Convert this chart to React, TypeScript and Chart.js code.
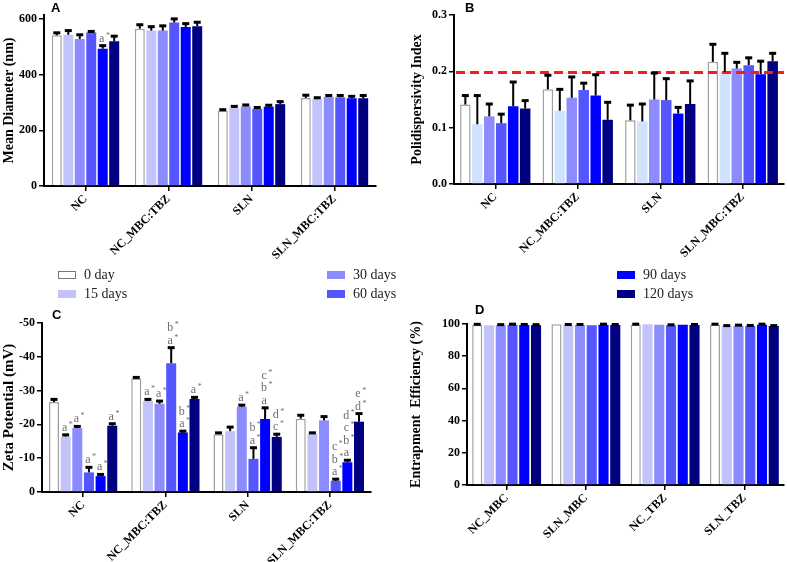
import React, { useEffect, useRef } from "react";
import { Chart, registerables } from "chart.js";
Chart.register(...registerables);

// ---------- shared ----------
const seriesLabels = ["0 day", "15 days", "30 days", "60 days", "90 days", "120 days"];
const seriesColors = ["#ffffff", "#c3c3fb", "#8c8cff", "#5656ff", "#0000ff", "#000080"];
const seriesColorsB = ["#ffffff", "#cfe2ff", "#8c8cff", "#5656ff", "#0000ff", "#000080"];
const catsABC = ["NC", "NC_MBC:TBZ", "SLN", "SLN_MBC:TBZ"];
const catsD = ["NC_MBC", "SLN_MBC", "NC_TBZ", "SLN_TBZ"];

// ---------- Panel A: mean diameter (nm) ----------
const diam0 = [541, 565, 270, 316];
const diam15 = [543, 558, 281, 312];
const diam30 = [528, 558, 286, 320];
const diam60 = [551, 587, 277, 319];
const diam90 = [493, 571, 285, 315];
const diam120 = [520, 574, 294, 315];
const diamErr0 = [9, 14, 4, 10];
const diamErr15 = [15, 14, 5, 5];
const diamErr30 = [15, 17, 5, 5];
const diamErr60 = [4, 13, 5, 6];
const diamErr90 = [11, 12, 5, 7];
const diamErr120 = [18, 14, 9, 10];
const diamNote90 = ["a*", "", "", ""];
const diamTicks = [0, 200, 400, 600];

// ---------- Panel B: polydispersity index ----------
const pdi0 = [0.141, 0.168, 0.113, 0.217];
const pdi15 = [0.106, 0.13, 0.111, 0.199];
const pdi30 = [0.12, 0.153, 0.15, 0.205];
const pdi60 = [0.108, 0.167, 0.149, 0.211];
const pdi90 = [0.138, 0.157, 0.125, 0.195];
const pdi120 = [0.134, 0.114, 0.142, 0.218];
const pdiErr0 = [0.016, 0.025, 0.027, 0.031];
const pdiErr15 = [0.051, 0.038, 0.031, 0.033];
const pdiErr30 = [0.022, 0.037, 0.047, 0.011];
const pdiErr60 = [0.016, 0.012, 0.038, 0.013];
const pdiErr90 = [0.043, 0.037, 0.011, 0.023];
const pdiErr120 = [0.014, 0.031, 0.041, 0.014];
const pdiLimit = 0.198;
const pdiTicks = [0, 0.1, 0.2, 0.3];

// ---------- Panel C: zeta potential (mV) ----------
const zeta0 = [-26.6, -33.6, -17.1, -21.7];
const zeta15 = [-16.4, -26.9, -18.0, -17.2];
const zeta30 = [-18.9, -26.1, -25.2, -21.2];
const zeta60 = [-5.8, -38.1, -9.8, -3.3];
const zeta90 = [-4.7, -17.6, -21.6, -8.8];
const zeta120 = [-19.6, -27.5, -16.3, -20.8];
const zetaErr0 = [0.8, 0.3, 0.4, 1.0];
const zetaErr15 = [0.5, 0.5, 1.2, 0.3];
const zetaErr30 = [0.5, 0.8, 0.5, 1.1];
const zetaErr60 = [1.5, 4.6, 3.3, 0.5];
const zetaErr90 = [0.5, 0.4, 3.3, 0.6];
const zetaErr120 = [0.6, 0.5, 0.8, 2.4];
const zetaNote15 = ["a*", "a*", "", ""];
const zetaNote30 = ["a*", "a*", "a*", ""];
const zetaNote60 = ["a*", "b*\na*", "b*\na*", "c*\nb*\na*"];
const zetaNote90 = ["a*", "b*\na*", "c*\nb*\na", "d*\nc*\nb*\na"];
const zetaNote120 = ["a*", "a*", "d*\nc*", "e*\nd*"];
const zetaTicks = [-50, -40, -30, -20, -10, 0];

// ---------- Panel D: entrapment efficiency (%) ----------
const ee0 = [99.5, 99.9, 99.6, 99.6];
const ee15 = [99.2, 99.4, 99.9, 98.6];
const ee30 = [99.3, 99.4, 99.6, 99.0];
const ee60 = [99.6, 99.3, 99.2, 98.8];
const ee90 = [99.4, 99.6, 99.6, 99.5];
const ee120 = [99.3, 99.4, 99.4, 98.7];
const eeErr0 = [0.3, 0, 0.3, 0.3];
const eeErr15 = [0, 0.3, 0, 0.4];
const eeErr30 = [0.3, 0.3, 0, 0.3];
const eeErr60 = [0.3, 0, 0.3, 0.3];
const eeErr90 = [0.3, 0.3, 0, 0.4];
const eeErr120 = [0.3, 0.3, 0.3, 0.3];
const eeTicks = [0, 20, 40, 60, 80, 100];

const SERIF = "'Liberation Serif', 'Times New Roman', serif";
const SANS = "'Liberation Sans', Arial, sans-serif";

type PanelCfg = {
  labels: string[];
  values: number[][];
  errors: number[][];
  notes?: (string[] | null)[];
  colors: string[];
  min: number;
  max: number;
  ticks: number[];
  reverse?: boolean;
  decimals?: number;
  title: string;
  titleSize: number;
  padLeft: number;
  yWidth: number;
  padTop: number;
  padRight: number;
  xHeight: number;
  catPct: number;
  barPct: number;
  refLine?: number;
  width: number;
  height: number;
};

function Panel({ cfg, left, top }: { cfg: PanelCfg; left: number; top: number }) {
  const ref = useRef<HTMLCanvasElement | null>(null);
  useEffect(() => {
    const canvas = ref.current;
    if (!canvas) return;
    const plugin = {
      id: "errbars",
      afterDatasetsDraw(chart: any) {
        const ctx = chart.ctx as CanvasRenderingContext2D;
        const ys = chart.scales.y;
        const area = chart.chartArea;
        ctx.save();
        if (cfg.refLine !== undefined) {
          const py = ys.getPixelForValue(cfg.refLine);
          ctx.strokeStyle = "#ff1a1a";
          ctx.lineWidth = 3;
          ctx.setLineDash([9, 5]);
          ctx.beginPath();
          ctx.moveTo(area.left + 2, py);
          ctx.lineTo(area.right, py);
          ctx.stroke();
          ctx.setLineDash([]);
        }
        cfg.values.forEach((vals, i) => {
          const meta = chart.getDatasetMeta(i);
          vals.forEach((v, j) => {
            const bar = meta.data[j];
            if (!bar) return;
            const e = cfg.errors[i][j];
            const sign = v < 0 ? -1 : 1;
            const yTop = ys.getPixelForValue(v + sign * e);
            const x = bar.x;
            ctx.fillStyle = "#000";
            if (e > 0) {
              ctx.strokeStyle = "#000";
              ctx.lineWidth = 2;
              ctx.beginPath();
              ctx.moveTo(x, bar.y);
              ctx.lineTo(x, yTop);
              ctx.stroke();
              ctx.fillRect(x - 3.5, yTop - 1.5, 7, 3);
            }
            const note = cfg.notes && cfg.notes[i] ? cfg.notes[i]![j] : "";
            if (note) {
              const lines = note.split("\n");
              let base = yTop - 4;
              for (let k = lines.length - 1; k >= 0; k--) {
                const txt = lines[k];
                const letter = txt.replace("*", "");
                const star = txt.includes("*");
                ctx.font = `12px ${SERIF}`;
                ctx.fillStyle = "#6e6e6e";
                ctx.textAlign = "center";
                ctx.textBaseline = "alphabetic";
                const w = ctx.measureText(letter).width;
                ctx.fillText(letter, x - 1, base);
                if (star) {
                  ctx.font = `8px ${SERIF}`;
                  ctx.textAlign = "left";
                  ctx.fillText("*", x - 1 + w / 2 + 1.5, base - 4);
                }
                base -= 12.5;
              }
            }
          });
        });
        ctx.restore();
      },
    };
    const datasets = cfg.values.map((vals, i) => ({
      label: seriesLabels[i],
      data: vals,
      backgroundColor: cfg.colors[i],
      borderColor: i === 0 ? "#a0a0a0" : cfg.colors[i],
      borderWidth: i === 0 ? 1.5 : 0,
      categoryPercentage: cfg.catPct,
      barPercentage: cfg.barPct,
    }));
    const chart = new Chart(canvas, {
      type: "bar",
      data: { labels: cfg.labels, datasets },
      options: {
        responsive: false,
        animation: false,
        devicePixelRatio: 1,
        layout: { padding: { left: cfg.padLeft, top: cfg.padTop, right: cfg.padRight, bottom: 0 } },
        plugins: { legend: { display: false }, tooltip: { enabled: false } },
        scales: {
          x: {
            offset: true,
            grid: {
              display: true,
              offset: false,
              drawOnChartArea: false,
              drawTicks: true,
              tickLength: 5,
              color: "#000",
              lineWidth: 1.5,
            },
            border: { display: true, color: "#000", width: 2 },
            ticks: {
              minRotation: 45,
              maxRotation: 45,
              autoSkip: false,
              padding: 1,
              color: "#000",
              font: { family: SERIF, weight: "bold", size: 12 },
            },
            afterFit: (s: any) => {
              s.height = cfg.xHeight;
            },
          },
          y: {
            min: cfg.min,
            max: cfg.max,
            reverse: !!cfg.reverse,
            grid: {
              display: true,
              drawOnChartArea: false,
              drawTicks: true,
              tickLength: 5,
              color: "#000",
              lineWidth: 1.5,
            },
            border: { display: true, color: "#000", width: 2 },
            ticks: {
              autoSkip: false,
              padding: 2,
              color: "#000",
              font: { family: SERIF, weight: "bold", size: 12 },
              callback: (v: any) =>
                cfg.decimals ? Number(v).toFixed(cfg.decimals) : String(Math.round(Number(v))),
            },
            afterBuildTicks: (s: any) => {
              s.ticks = cfg.ticks.map((v) => ({ value: v }));
            },
            title: {
              display: true,
              text: cfg.title,
              color: "#000",
              padding: 0,
              font: { family: SERIF, weight: "bold", size: cfg.titleSize },
            },
            afterFit: (s: any) => {
              s.width = cfg.yWidth;
            },
          },
        },
      },
      plugins: [plugin],
    } as any);
    return () => chart.destroy();
  }, [cfg]);
  return (
    <canvas
      ref={ref}
      width={cfg.width}
      height={cfg.height}
      style={{ position: "absolute", left, top, width: cfg.width, height: cfg.height }}
    />
  );
}

const cfgA: PanelCfg = {
  labels: catsABC,
  values: [diam0, diam15, diam30, diam60, diam90, diam120],
  errors: [diamErr0, diamErr15, diamErr30, diamErr60, diamErr90, diamErr120],
  notes: [null, null, null, null, diamNote90, null],
  colors: seriesColors,
  min: 0,
  max: 614,
  ticks: diamTicks,
  title: "Mean Diameter (nm)",
  titleSize: 14,
  padLeft: 1,
  yWidth: 43,
  padTop: 15,
  padRight: 14,
  xHeight: 76,
  catPct: 0.83,
  barPct: 0.87,
  width: 390,
  height: 262,
};

const cfgB: PanelCfg = {
  labels: catsABC,
  values: [pdi0, pdi15, pdi30, pdi60, pdi90, pdi120],
  errors: [pdiErr0, pdiErr15, pdiErr30, pdiErr60, pdiErr90, pdiErr120],
  colors: seriesColorsB,
  min: 0,
  max: 0.3,
  ticks: pdiTicks,
  decimals: 1,
  title: "Polidispersivity Index",
  titleSize: 14,
  padLeft: 19,
  yWidth: 45,
  padTop: 15,
  padRight: 3,
  xHeight: 78,
  catPct: 0.87,
  barPct: 0.88,
  refLine: pdiLimit,
  width: 397,
  height: 262,
};

const cfgC: PanelCfg = {
  labels: catsABC,
  values: [zeta0, zeta15, zeta30, zeta60, zeta90, zeta120],
  errors: [zetaErr0, zetaErr15, zetaErr30, zetaErr60, zetaErr90, zetaErr120],
  notes: [null, zetaNote15, zetaNote30, zetaNote60, zetaNote90, zetaNote120],
  colors: seriesColors,
  min: -50,
  max: 0,
  ticks: zetaTicks,
  reverse: true,
  title: "Zeta Potential (mV)",
  titleSize: 15,
  padLeft: 0,
  yWidth: 42,
  padTop: 23,
  padRight: 19,
  xHeight: 70,
  catPct: 0.85,
  barPct: 0.86,
  width: 390,
  height: 262,
};

const cfgD: PanelCfg = {
  labels: catsD,
  values: [ee0, ee15, ee30, ee60, ee90, ee120],
  errors: [eeErr0, eeErr15, eeErr30, eeErr60, eeErr90, eeErr120],
  colors: seriesColors,
  min: 0,
  max: 100,
  ticks: eeTicks,
  title: "Entrapment  Efficiency (%)",
  titleSize: 14,
  padLeft: 18,
  yWidth: 59,
  padTop: 24,
  padRight: 3,
  xHeight: 77,
  catPct: 0.89,
  barPct: 0.86,
  width: 397,
  height: 262,
};

const letterStyle: React.CSSProperties = {
  position: "absolute",
  font: `bold 13px ${SANS}`,
  lineHeight: "13px",
  color: "#000",
};

export default function App() {
  const legendCols = [58, 327, 617];
  const legendRows = [275, 294];
  return (
    <div
      style={{
        position: "absolute",
        left: 0,
        top: 0,
        width: 787,
        height: 562,
        background: "#fff",
        overflow: "hidden",
      }}
    >
      <Panel cfg={cfgA} left={0} top={0} />
      <Panel cfg={cfgB} left={390} top={0} />
      <Panel cfg={cfgC} left={0} top={300} />
      <Panel cfg={cfgD} left={390} top={300} />
      <div style={{ ...letterStyle, left: 51, top: 1 }}>A</div>
      <div style={{ ...letterStyle, left: 465, top: 1 }}>B</div>
      <div style={{ ...letterStyle, left: 52, top: 308 }}>C</div>
      <div style={{ ...letterStyle, left: 475, top: 303 }}>D</div>
      {seriesLabels.map((lab, i) => {
        const col = Math.floor(i / 2);
        const row = i % 2;
        const x = legendCols[col];
        const y = legendRows[row];
        return (
          <div key={lab}>
            <div
              style={{
                position: "absolute",
                left: x,
                top: y - 4,
                width: 18,
                height: 8,
                boxSizing: "border-box",
                background: seriesColors[i],
                border: i === 0 ? "1.2px solid #777" : "none",
              }}
            />
            <div
              style={{
                position: "absolute",
                left: x + 26,
                top: y - 9,
                font: `14px ${SERIF}`,
                lineHeight: "18px",
                color: "#222",
                whiteSpace: "nowrap",
              }}
            >
              {lab}
            </div>
          </div>
        );
      })}
    </div>
  );
}
